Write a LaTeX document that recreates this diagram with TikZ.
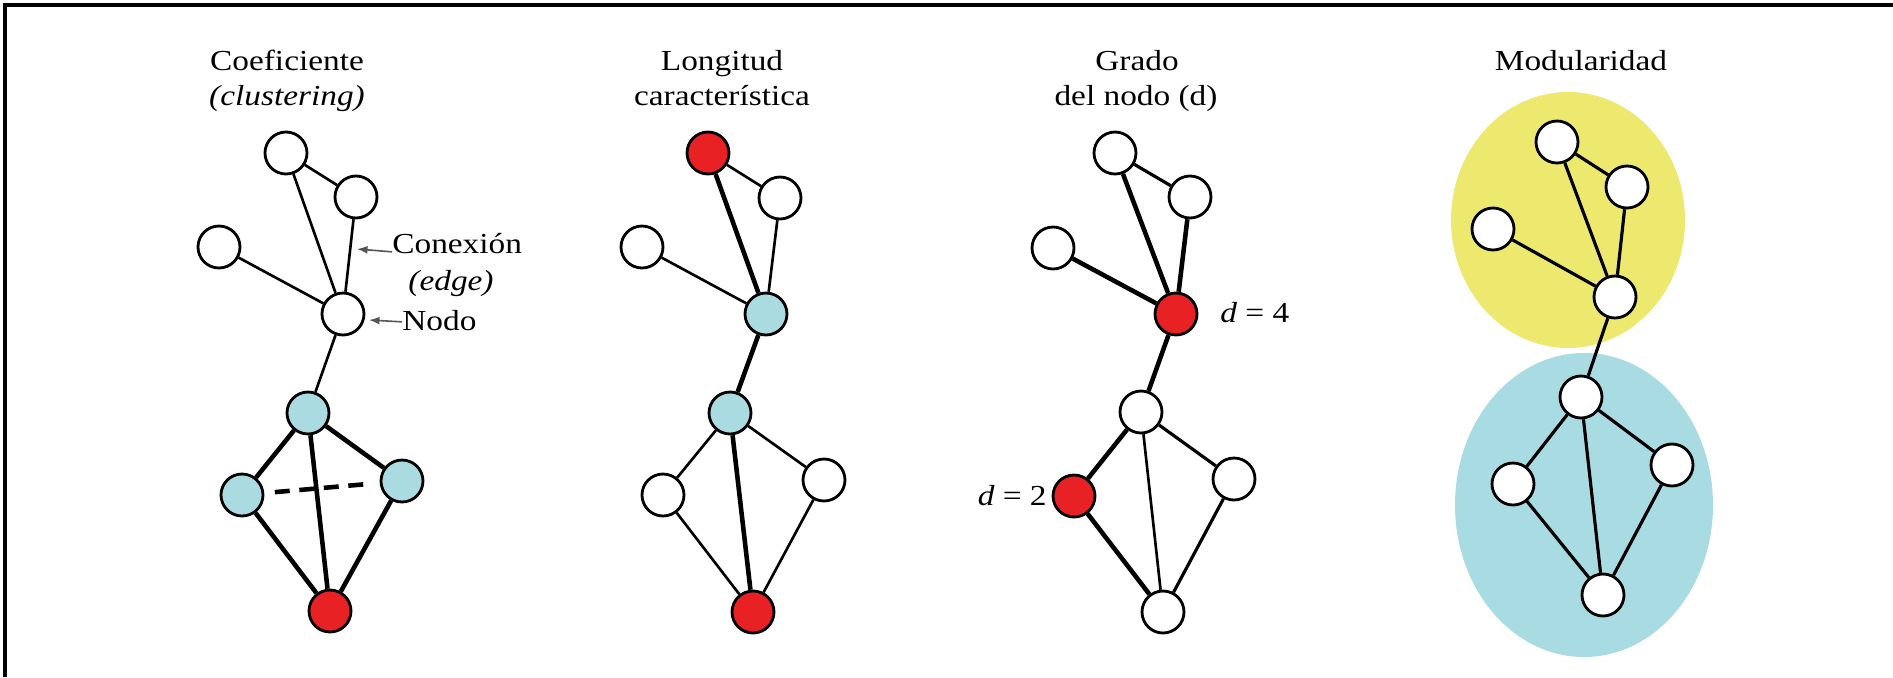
\documentclass[tikz,border=0pt]{standalone}
\usepackage{fontspec}
\setmainfont{Liberation Serif}
\usepackage{graphicx}
\usetikzlibrary{arrows.meta}

\definecolor{nodecyan}{RGB}{170,219,225}
\definecolor{nodered}{RGB}{232,34,36}
\definecolor{modyellow}{RGB}{236,233,110}
\definecolor{modcyan}{RGB}{168,219,226}
\definecolor{pointer}{RGB}{85,85,85}

\newcommand{\wtext}[1]{\scalebox{1.15}[1]{#1}}

\begin{document}
\begin{tikzpicture}[ x=0.02cm, y=-0.02cm,
	vertex/.style={ circle, draw, line width=1.6pt, fill=white, minimum size=0.84cm, inner sep=0pt },
	cyanv/.style={ vertex, fill=nodecyan },
	redv/.style={ vertex, fill=nodered },
	thin edge/.style={ line width=1.5pt },
	mid edge/.style={ line width=1.8pt },
	thick edge/.style={ line width=2.6pt },
	label/.style={ font=\fontsize{16.5}{20}\selectfont, inner sep=0pt },
	pointer arrow/.style={ draw=pointer, line width=0.9pt, -{Latex[length=6pt, width=4.5pt]} }
]

	\useasboundingbox (0, 0) rectangle (1893, 677);
	\draw[ line width=2.3pt ] (5, 677) -- (5, 5) -- (1893, 5);

	\node[ label, anchor=base ] (t1a) at (287, 70) {\wtext{Coeficiente}};
	\node[ label, anchor=base ] (t1b) at (287, 105) {\wtext{\textit{(clustering)}}};
	\node[ label, anchor=base ] (t2a) at (722, 70) {\wtext{Longitud}};
	\node[ label, anchor=base ] (t2b) at (722, 105) {\wtext{característica}};
	\node[ label, anchor=base ] (t3a) at (1137, 70) {\wtext{Grado}};
	\node[ label, anchor=base ] (t3b) at (1136, 105) {\wtext{del nodo (d)}};
	\node[ label, anchor=base ] (t4a) at (1581, 70) {\wtext{Modularidad}};

	\node[ vertex ] (p1a) at (286, 153) {};
	\node[ vertex ] (p1b) at (356, 197) {};
	\node[ vertex ] (p1c) at (219, 247) {};
	\node[ vertex ] (p1d) at (343, 314) {};
	\node[ cyanv ] (p1e) at (308, 413) {};
	\node[ cyanv ] (p1f) at (242, 495) {};
	\node[ cyanv ] (p1g) at (402, 481) {};
	\node[ redv ] (p1h) at (330, 611) {};

	\draw[ thin edge ] (p1a) -- (p1b);
	\draw[ thin edge ] (p1a) -- (p1d);
	\draw[ thin edge ] (p1b) -- (p1d);
	\draw[ thin edge ] (p1c) -- (p1d);
	\draw[ thin edge ] (p1d) -- (p1e);
	\draw[ thick edge ] (p1e) -- (p1f);
	\draw[ thick edge ] (p1e) -- (p1g);
	\draw[ thick edge ] (p1e) -- (p1h);
	\draw[ thick edge ] (p1f) -- (p1h);
	\draw[ thick edge ] (p1g) -- (p1h);
	\draw[ thick edge, dash pattern=on 8.5pt off 5.5pt, shorten <=6pt, shorten >=4pt ] (p1f) -- (p1g);

	\node[ label, anchor=base west ] (conexion) at (392, 253) {\wtext{Conexión}};
	\node[ label, anchor=base ] (edge) at (451, 290) {\wtext{\textit{(edge)}}};
	\node[ label, anchor=base west ] (nodo) at (402, 330) {\wtext{Nodo}};
	\coordinate (conexionTip) at (357, 249);
	\coordinate (nodoTip) at (369, 320);
	\draw[ pointer arrow ] ([yshift=-5pt]conexion.west) -- (conexionTip);
	\draw[ pointer arrow ] ([yshift=-1pt]nodo.west) -- (nodoTip);

	\node[ redv ] (p2a) at (708, 153) {};
	\node[ vertex ] (p2b) at (780, 198) {};
	\node[ vertex ] (p2c) at (642, 247) {};
	\node[ cyanv ] (p2d) at (766, 314) {};
	\node[ cyanv ] (p2e) at (730, 413) {};
	\node[ vertex ] (p2f) at (663, 495) {};
	\node[ vertex ] (p2g) at (824, 480) {};
	\node[ redv ] (p2h) at (753, 612) {};

	\draw[ thin edge ] (p2a) -- (p2b);
	\draw[ thick edge ] (p2a) -- (p2d);
	\draw[ thin edge ] (p2b) -- (p2d);
	\draw[ thin edge ] (p2c) -- (p2d);
	\draw[ thick edge ] (p2d) -- (p2e);
	\draw[ thin edge ] (p2e) -- (p2f);
	\draw[ thin edge ] (p2e) -- (p2g);
	\draw[ thick edge ] (p2e) -- (p2h);
	\draw[ thin edge ] (p2f) -- (p2h);
	\draw[ thin edge ] (p2g) -- (p2h);

	\node[ vertex ] (p3a) at (1115, 153) {};
	\node[ vertex ] (p3b) at (1190, 197) {};
	\node[ vertex ] (p3c) at (1053, 248) {};
	\node[ redv ] (p3d) at (1176, 314) {};
	\node[ vertex ] (p3e) at (1141, 412) {};
	\node[ redv ] (p3f) at (1074, 496) {};
	\node[ vertex ] (p3g) at (1234, 479) {};
	\node[ vertex ] (p3h) at (1163, 612) {};

	\draw[ mid edge ] (p3a) -- (p3b);
	\draw[ thick edge ] (p3a) -- (p3d);
	\draw[ thick edge ] (p3b) -- (p3d);
	\draw[ thick edge ] (p3c) -- (p3d);
	\draw[ thick edge ] (p3d) -- (p3e);
	\draw[ thick edge ] (p3e) -- (p3f);
	\draw[ mid edge ] (p3e) -- (p3g);
	\draw[ thin edge ] (p3e) -- (p3h);
	\draw[ thick edge ] (p3f) -- (p3h);
	\draw[ mid edge ] (p3g) -- (p3h);

	\node[ label, anchor=base west ] (dfour) at (1220, 322) {\wtext{\textit{d} = 4}};
	\node[ label, anchor=base east ] (dtwo) at (1047, 505) {\wtext{\textit{d} = 2}};

	\fill[ modcyan ] (1584, 505) ellipse (129 and 152);
	\fill[ modyellow ] (1568, 220) ellipse (117 and 128);

	\node[ vertex ] (p4a) at (1557, 142) {};
	\node[ vertex ] (p4b) at (1627, 187) {};
	\node[ vertex ] (p4c) at (1493, 229) {};
	\node[ vertex ] (p4d) at (1615, 297) {};
	\node[ vertex ] (p4e) at (1581, 397) {};
	\node[ vertex ] (p4f) at (1513, 484) {};
	\node[ vertex ] (p4g) at (1672, 465) {};
	\node[ vertex ] (p4h) at (1603, 595) {};

	\draw[ mid edge ] (p4a) -- (p4b);
	\draw[ mid edge ] (p4a) -- (p4d);
	\draw[ mid edge ] (p4b) -- (p4d);
	\draw[ mid edge ] (p4c) -- (p4d);
	\draw[ mid edge ] (p4d) -- (p4e);
	\draw[ mid edge ] (p4e) -- (p4f);
	\draw[ mid edge ] (p4e) -- (p4g);
	\draw[ mid edge ] (p4e) -- (p4h);
	\draw[ mid edge ] (p4f) -- (p4h);
	\draw[ mid edge ] (p4g) -- (p4h);

\end{tikzpicture}
\end{document}
